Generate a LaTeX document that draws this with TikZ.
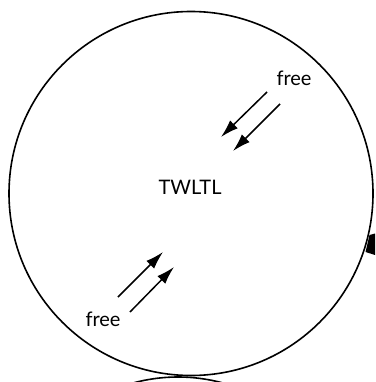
\documentclass[tikz,border=0pt]{standalone}
\usepackage{fontspec}
\setmainfont{Lato}
\usetikzlibrary{arrows.meta}
\begin{document}
\begin{tikzpicture}[x=1pt,y=-1pt,
  ring/.style={draw,line width=1.6pt,circle,inner sep=0pt},
  freearrow/.style={line width=1.5pt,-{Latex[length=18pt,width=11pt]}},
  lbl/.style={font=\fontsize{20}{23}\selectfont,inner sep=0pt}]
\useasboundingbox (0,0) rectangle (375,382);
\node[ring,minimum size=364pt] (main) at (191,193.5) {};
\node[ring,minimum size=340pt] (other) at (178,547) {};
\node[lbl] (twltl) at (190,187) {TWLTL};
\node[lbl] (freeA) at (294,78) {free};
\node[lbl] (freeB) at (103,319) {free};
\coordinate (a1s) at (267,92);
\coordinate (a1e) at (221,137);
\coordinate (a2s) at (280,104);
\coordinate (a2e) at (233,151);
\coordinate (b1s) at (118,297);
\coordinate (b1e) at (163,252);
\coordinate (b2s) at (130,312);
\coordinate (b2e) at (174,267);
\draw[freearrow] (a1s) -- (a1e);
\draw[freearrow] (a2s) -- (a2e);
\draw[freearrow] (b1s) -- (b1e);
\draw[freearrow] (b2s) -- (b2e);
\fill (369.5,235) -- (375,233.5) -- (375,255) -- (365.5,252) -- cycle;
\end{tikzpicture}
\end{document}
